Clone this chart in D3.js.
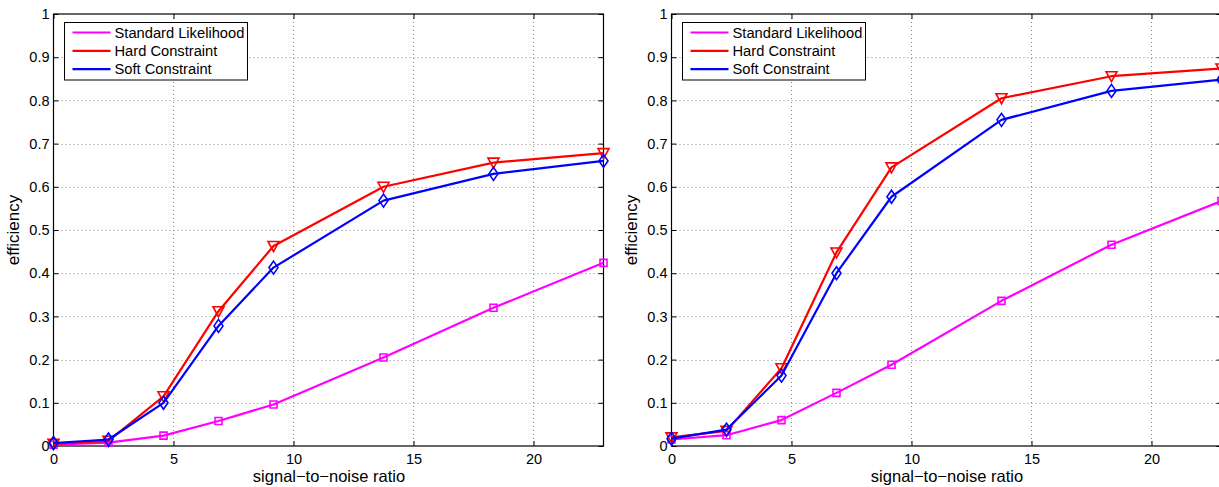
<!DOCTYPE html>
<html><head><meta charset="utf-8">
<script src="https://cdn.jsdelivr.net/npm/d3@7"></script>
<style>body{margin:0;background:#fff;} text{font-family:"Liberation Sans",Arial,sans-serif;}</style>
</head><body>
<svg id="chart" width="1219" height="487"></svg>
<script>
const snr = [0, 2.2917, 4.5833, 6.875, 9.1667, 13.75, 18.333, 22.917];
const xTicks = [0, 5, 10, 15, 20];
const yTicks = [0, 0.1, 0.2, 0.3, 0.4, 0.5, 0.6, 0.7, 0.8, 0.9, 1];
const seriesNames = ["Standard Likelihood", "Hard Constraint", "Soft Constraint"];
const seriesColors = ["#ff00ff", "#ff0000", "#0000ff"];
const seriesMarkers = ["square", "triangleDown", "diamond"];

const leftStandard = [0.003, 0.008, 0.024, 0.058, 0.096, 0.205, 0.320, 0.424];
const leftHard     = [0.005, 0.012, 0.115, 0.312, 0.463, 0.600, 0.656, 0.678];
const leftSoft     = [0.007, 0.015, 0.100, 0.278, 0.413, 0.568, 0.630, 0.660];

const rightStandard = [0.015, 0.025, 0.060, 0.123, 0.188, 0.336, 0.466, 0.567];
const rightHard     = [0.020, 0.035, 0.180, 0.448, 0.645, 0.805, 0.856, 0.874];
const rightSoft     = [0.017, 0.038, 0.163, 0.400, 0.577, 0.755, 0.822, 0.848];

const svg = d3.select("#chart");

function drawPanel(x0, x1, y0, y1, data) {
  const g = svg.append("g");
  const x = d3.scaleLinear().domain([0, 22.917]).range([x0, x1]);
  const y = d3.scaleLinear().domain([0, 1]).range([y1, y0]);

  // grid
  const grid = g.append("g").attr("stroke", "#8a8a8a").attr("stroke-width", 1).attr("stroke-dasharray", "1,3");
  xTicks.slice(1).forEach(t => grid.append("line").attr("x1", Math.round(x(t)) + 0.5).attr("x2", Math.round(x(t)) + 0.5).attr("y1", y0).attr("y2", y1));
  yTicks.slice(1, -1).forEach(t => grid.append("line").attr("y1", Math.round(y(t)) + 0.5).attr("y2", Math.round(y(t)) + 0.5).attr("x1", x0).attr("x2", x1));

  // axes with inward ticks
  const ax = g.append("g").attr("transform", `translate(0,${y1})`)
    .call(d3.axisBottom(x).tickValues(xTicks).tickSizeInner(-5).tickSizeOuter(0).tickPadding(8).tickFormat(d3.format("d")));
  const ay = g.append("g").attr("transform", `translate(${x0},0)`)
    .call(d3.axisLeft(y).tickValues(yTicks).tickSizeInner(-5).tickSizeOuter(0).tickPadding(4).tickFormat(d => d === 0 ? "0" : d === 1 ? "1" : d3.format(".1f")(d)));
  const at = g.append("g").attr("transform", `translate(0,${y0})`)
    .call(d3.axisTop(x).tickValues(xTicks).tickSizeInner(-5).tickSizeOuter(0).tickFormat(""));
  const ar = g.append("g").attr("transform", `translate(${x1},0)`)
    .call(d3.axisRight(y).tickValues(yTicks).tickSizeInner(-5).tickSizeOuter(0).tickFormat(""));
  [ax, ay, at, ar].forEach(a => { a.select(".domain").remove(); a.selectAll("line").attr("stroke", "#000"); a.selectAll("text").attr("font-size", 14.5).attr("fill", "#000").style("font-family", "Liberation Sans, Arial, sans-serif"); });

  g.append("rect").attr("x", x0).attr("y", y0).attr("width", x1 - x0).attr("height", y1 - y0)
    .attr("fill", "none").attr("stroke", "#000").attr("stroke-width", 1.2);

  // labels
  g.append("text").attr("x", (x0 + x1) / 2 + 0.5).attr("y", y1 + 36).attr("text-anchor", "middle").attr("font-size", 16.5).text("signal\u2212to\u2212noise ratio");
  g.append("text").attr("transform", `translate(${x0 - 35},${(y0 + y1) / 2}) rotate(-90)`).attr("text-anchor", "middle").attr("font-size", 17).text("efficiency");

  // series
  const line = d3.line().x((d, i) => x(snr[i])).y(d => y(d));
  const s = 4.5;
  const markerPath = {
    square: `M-3.5,-3.5H3.5V3.5H-3.5Z`,
    triangleDown: `M${-s - 1},${-s}H${s + 1}L0,${s + 1}Z`,
    diamond: `M0,${-s - 2}L${s},0L0,${s + 2}L${-s},0Z`
  };
  data.forEach((vals, k) => {
    g.append("path").datum(vals).attr("d", line).attr("fill", "none").attr("stroke", seriesColors[k]).attr("stroke-width", 2.2).attr("stroke-linejoin", "round");
    g.selectAll(null).data(vals).enter().append("path")
      .attr("transform", (d, i) => `translate(${x(snr[i])},${y(d)})`)
      .attr("d", markerPath[seriesMarkers[k]])
      .attr("fill", "none").attr("stroke", seriesColors[k]).attr("stroke-width", 1.6);
  });

  // legend
  const lx = x0 + 11, ly = y0 + 8.5;
  const lg = g.append("g");
  lg.append("rect").attr("x", lx).attr("y", ly).attr("width", 183).attr("height", 57.5).attr("fill", "#fff").attr("stroke", "#000").attr("stroke-width", 1);
  seriesNames.forEach((n, k) => {
    const yy = ly + 10 + k * 18.3;
    lg.append("line").attr("x1", lx + 8).attr("x2", lx + 46).attr("y1", yy).attr("y2", yy).attr("stroke", seriesColors[k]).attr("stroke-width", 2.2);
    lg.append("text").attr("x", lx + 50).attr("y", yy + 5).attr("font-size", 14.7).text(n);
  });
}

drawPanel(53.5, 603.5, 14, 446, [leftStandard, leftHard, leftSoft]);
drawPanel(671.5, 1221.5, 14, 446, [rightStandard, rightHard, rightSoft]);
</script>
</body></html>
